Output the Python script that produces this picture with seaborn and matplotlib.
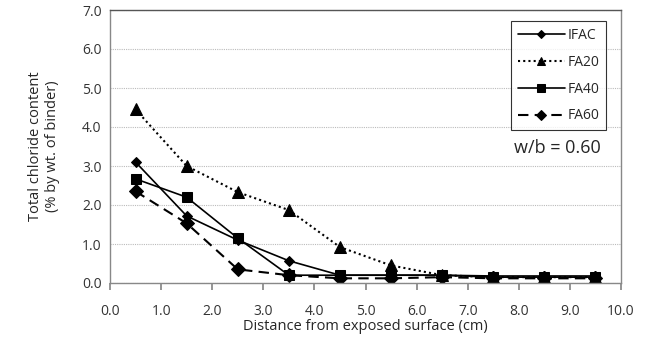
import matplotlib
matplotlib.use("Agg")
import matplotlib.pyplot as plt
import seaborn as sns
import pandas as pd

depth = [0.5, 1.5, 2.5, 3.5, 4.5, 5.5, 6.5, 7.5, 8.5, 9.5]
ifac = [3.10, 1.72, 1.10, 0.57, 0.20, 0.20, 0.20, 0.18, 0.18, 0.18]
fa20 = [4.45, 3.00, 2.33, 1.87, 0.92, 0.45, 0.20, 0.15, 0.15, 0.15]
fa40 = [2.67, 2.20, 1.15, 0.20, 0.20, 0.20, 0.20, 0.15, 0.15, 0.15]
fa60 = [2.35, 1.53, 0.35, 0.20, 0.12, 0.12, 0.15, 0.12, 0.12, 0.12]
series_names = ["IFAC", "FA20", "FA40", "FA60"]
series_vals = [ifac, fa20, fa40, fa60]
xticks = [0, 1, 2, 3, 4, 5, 6, 7, 8, 9, 10]
yticks = [0, 1, 2, 3, 4, 5, 6, 7]

sns.set_theme(style="white")
plt.rcParams['font.family'] = ['Open Sans', 'DejaVu Sans']

fig = plt.figure(figsize=(6.5, 3.5), dpi=100)
ax = fig.add_axes([110/650, 1 - 283/350, (621-110)/650, (283-10)/350])

styles = {
    "IFAC": dict(marker="D", markersize=5, linestyle="-", linewidth=1.2),
    "FA20": dict(marker="^", markersize=8, linestyle=(0, (1, 1.5)), linewidth=1.5),
    "FA40": dict(marker="s", markersize=7, linestyle="-", linewidth=1.2),
    "FA60": dict(marker="D", markersize=7, linestyle=(0, (5, 3)), linewidth=1.5),
}
for name, vals in zip(series_names, series_vals):
    df = pd.DataFrame({"x": depth, "y": vals})
    st = styles[name]
    sns.lineplot(data=df, x="x", y="y", ax=ax, color="black", label=name,
                 marker=st["marker"], markersize=st["markersize"],
                 linestyle=st["linestyle"], linewidth=st["linewidth"],
                 markeredgecolor="black", markerfacecolor="black")

ax.set_xlim(0, 10)
ax.set_ylim(0, 7)
ax.set_xticks(xticks)
ax.set_xticklabels([f"{v:.1f}" for v in xticks], fontsize=10, color="#333333")
ax.set_yticks(yticks)
ax.set_yticklabels([f"{v:.1f}" for v in yticks], fontsize=10, color="#333333")
ax.yaxis.grid(True, linestyle=(0, (1, 1)), color="#bbbbbb", linewidth=0.8)
ax.xaxis.grid(False)
for s in ax.spines.values():
    s.set_color("#888888")
    s.set_linewidth(1.0)
ax.spines["top"].set_color("#555555")
ax.tick_params(axis="x", direction="out", length=5, color="#888888", pad=10, bottom=True)
ax.tick_params(axis="y", length=0, pad=6)

ax.set_xlabel("Distance from exposed surface (cm)", fontsize=10.5, labelpad=0)
ax.set_ylabel("Total chloride content\n(% by wt. of binder)", fontsize=10.5, labelpad=16)

leg = ax.legend(loc="upper right", bbox_to_anchor=(0.985, 0.985), frameon=True,
                fancybox=False, edgecolor="black", fontsize=10, handlelength=3.4,
                labelspacing=0.85, borderpad=0.5, handletextpad=0.2, markerscale=0.8)
leg.get_frame().set_linewidth(0.8)

ax.text(0.96, 0.495, "w/b = 0.60", transform=ax.transAxes, ha="right", va="center",
        fontsize=13)

fig.savefig("out.png", dpi=100)
